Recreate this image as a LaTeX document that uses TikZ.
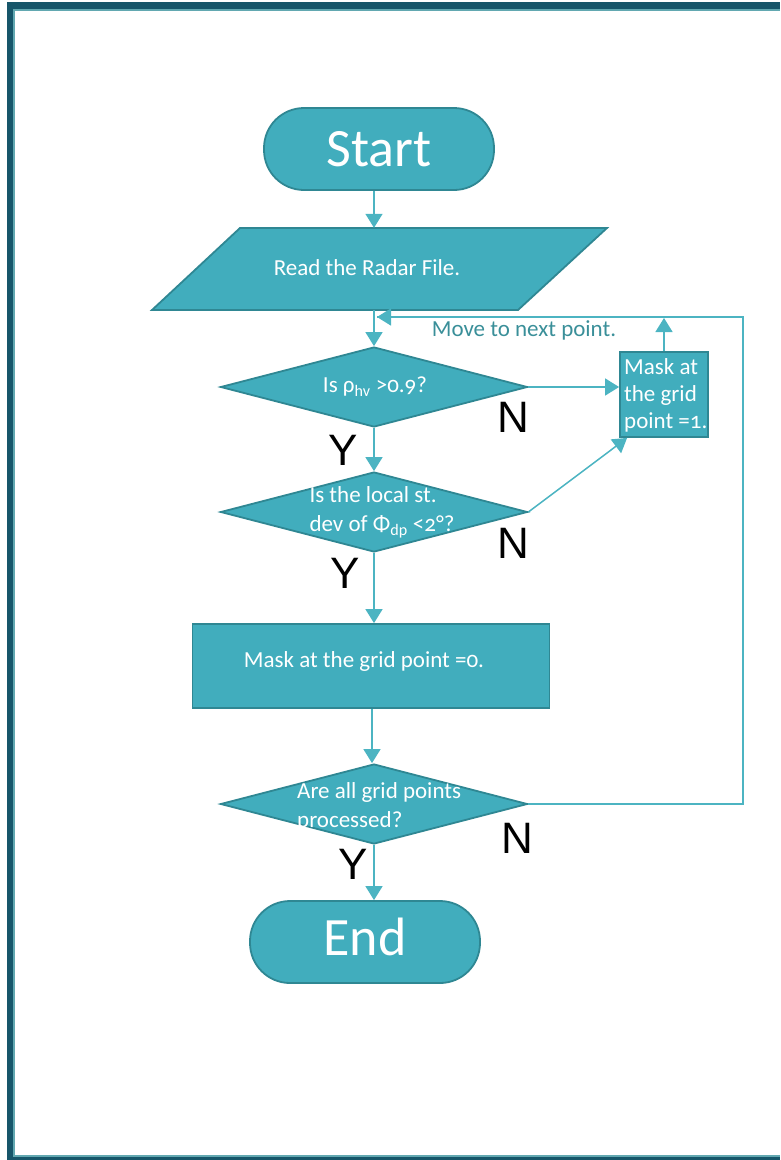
\documentclass[tikz,border=0pt]{standalone}
\usepackage{fontspec}
\setmainfont{Carlito}[Numbers=OldStyle]
\newfontfamily\ynfont{Liberation Sans}
\usetikzlibrary{shapes.geometric,arrows.meta,calc}

\definecolor{boxfill}{HTML}{41ADBD}
\definecolor{boxline}{HTML}{2F8793}
\definecolor{linkcol}{HTML}{4CB4C2}
\definecolor{notecol}{HTML}{3A8F99}
\definecolor{framedark}{HTML}{17566A}
\definecolor{framelight}{HTML}{62A8B1}

\tikzset{
  shapebox/.style={fill=boxfill, draw=boxline, line width=1.8pt},
  terminal/.style={shapebox, rectangle, rounded corners=40pt, minimum width=230pt, minimum height=82pt, inner sep=0pt},
  decision/.style={shapebox, diamond, minimum width=307pt, minimum height=80pt, inner sep=0pt},
  procbox/.style={shapebox, rectangle, inner sep=0pt},
  intext/.style={text=white, font=\fontsize{23}{29}\selectfont, inner sep=0pt},
  bigtext/.style={text=white, font=\fontsize{54}{54}\selectfont, inner sep=0pt},
  yntext/.style={text=black, font=\fontsize{44}{44}\ynfont, inner sep=0pt},
  link/.style={draw=linkcol, line width=1.5pt, -{Triangle[length=14pt,width=17pt]}},
  plainlink/.style={draw=linkcol, line width=1.5pt},
}

\begin{document}
\begin{tikzpicture}[x=1pt,y=-1pt]
  \useasboundingbox (0,0) rectangle (780,1160);

  % page frame (left, top and bottom edges)
  \fill[framedark] (7,2) rectangle (780,9);
  \fill[framedark] (7,2) rectangle (13,1160);
  \fill[framedark] (7,1157) rectangle (780,1160);
  \draw[framelight, line width=1.6pt] (780,10) -- (14,10) -- (14,1156) -- (780,1156);

  % terminals
  \node[terminal] (start) at (379,149) {};
  \node[bigtext] (starttxt) at (start.center) {Start};

  % input parallelogram
  \node[minimum width=366pt, minimum height=82pt, inner sep=0pt] (read) at (379.5,269) {};
  \filldraw[shapebox] (240,228) -- (607,228) -- (518,310) -- (152,310) -- cycle;
  \node[intext] (readtxt) at (367,268) {Read the Radar File.};

  % first test
  \node[decision] (d1) at (374,387) {};
  \node[intext] (d1txt) at (375,387) {Is ρ\textsubscript{hv} >0.9?};

  % mask = 1
  \node[procbox, minimum width=88pt, minimum height=85pt] (m1) at (664,394.5) {};
  \node[intext, align=left, anchor=west, font=\fontsize{23}{27}\selectfont] (m1txt) at (624,395) {Mask at\\the grid\\point =1.};

  % second test
  \node[decision] (d2) at (374,512) {};
  \node[intext, align=left] (d2txt) at (382,512) {Is the local st.\\dev of Φ\textsubscript{dp} <2°?};

  % mask = 0
  \node[procbox, minimum width=357pt, minimum height=84pt] (m0) at (371,666) {};
  \node[intext] (m0txt) at (364,661) {Mask at the grid point =0.};

  % last test
  \node[decision] (d3) at (374,804) {};
  \node[intext, align=left, anchor=west] (d3txt) at (297,807) {Are all grid points\\processed?};

  \node[terminal] (end) at (365,942) {};
  \node[bigtext] (endtxt) at (365,937) {End};

  % loop return path
  \coordinate (loopr) at (743,317);
  \coordinate (loopl) at (377,317);
  \node[text=notecol, font=\fontsize{23}{27}\selectfont, inner sep=0pt] (note) at (524,330) {Move to next point.};

  % connectors
  \draw[link] (start.south -| d1.north) -- (d1.north |- read.north);
  \draw[link] (d1.north |- read.south) -- (d1.north);
  \draw[link] (d1.east) -- (d1.east -| m1.west);
  \draw[link] (m1.north) -- ($(m1.north |- loopr)+(0,1)$);
  \draw[link] (d1.south) -- (d2.north);
  \draw[link] (d2.east) -- ($(m1.south west)+(8,0)$);
  \draw[link] (d2.south) -- (m0.north -| d2.south);
  \draw[link] (m0.south -| 372,0) -- (d3.north -| 372,0);
  \draw[link] (d3.south) -- (end.north -| d3.south);
  \draw[plainlink] (d3.east) -- (d3.east -| loopr) -- (loopr) -- (loopl);
  \draw[link] ($(loopl)+(20,0)$) -- (loopl);

  % branch labels
  \node[yntext] (n1) at (513,417) {N};
  \node[yntext] (y1) at (343,450) {Y};
  \node[yntext] (n2) at (513,543) {N};
  \node[yntext] (y2) at (345,573) {Y};
  \node[yntext] (n3) at (517,838) {N};
  \node[yntext] (y3) at (353,864) {Y};
\end{tikzpicture}
\end{document}
